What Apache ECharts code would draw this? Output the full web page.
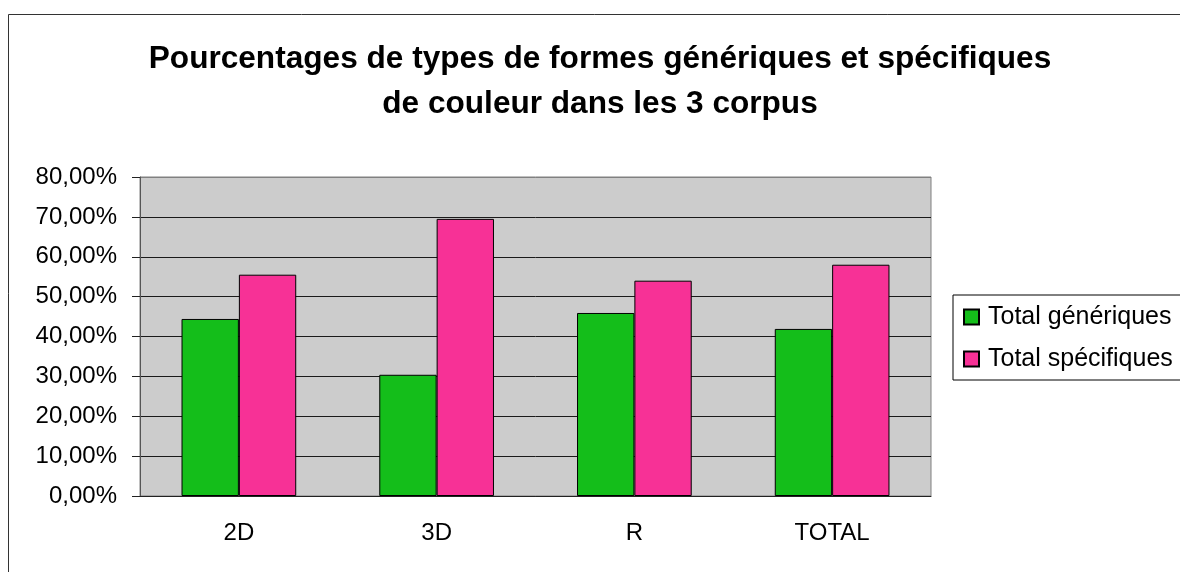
<!DOCTYPE html>
<html>
<head>
<meta charset="utf-8">
<script src="https://cdn.jsdelivr.net/npm/echarts@6/dist/echarts.min.js"></script>
<style>
  html, body { margin: 0; padding: 0; background: #fff; }
  #main { width: 1180px; height: 572px; }
</style>
</head>
<body>
<div id="main"></div>
<script>
const categories = ['2D', '3D', 'R', 'TOTAL'];
const generiques = [44.4, 30.4, 45.9, 41.9];
const specifiques = [55.5, 69.5, 54.0, 58.0];
const yTicks = [0, 10, 20, 30, 40, 50, 60, 70, 80];

const chart = echarts.init(document.getElementById('main'));

// gridlines: last one (80%) is the plot border, grey
const splitColors = yTicks.map((t, i) => i === yTicks.length - 1 ? '#808080' : '#1a1a1a');

const options = {
  animation: false,
  textStyle: { fontFamily: 'Arial, "Liberation Sans", sans-serif' },
  title: {
    text: 'Pourcentages de types de formes génériques et spécifiques\nde couleur dans les 3 corpus',
    left: 595,
    textAlign: 'center',
    top: 32,
    textStyle: {
      fontSize: 31.6,
      fontWeight: 'bold',
      color: '#000',
      lineHeight: 45,
      fontFamily: 'Arial, "Liberation Sans", sans-serif'
    }
  },
  legend: {
    orient: 'vertical',
    left: 953,
    top: 295,
    padding: [9, 30, 8, 10],
    itemGap: 16,
    itemWidth: 15,
    itemHeight: 15,
    icon: 'rect',
    borderColor: '#000',
    borderWidth: 1,
    textStyle: {
      fontSize: 25,
      lineHeight: 26,
      color: '#000',
      padding: [0, 0, 0, 4]
    },
    data: ['Total génériques', 'Total spécifiques']
  },
  grid: {
    left: 140,
    right: 249,
    top: 177,
    bottom: 76,
    show: true,
    backgroundColor: '#cccccc',
    borderColor: '#808080',
    borderWidth: 1
  },
  xAxis: {
    type: 'category',
    data: categories,
    axisLine: { lineStyle: { color: '#222', width: 1 } },
    axisTick: { length: 7, lineStyle: { color: '#222' } },
    axisLabel: { fontSize: 24, color: '#000', margin: 25 }
  },
  yAxis: {
    type: 'value',
    min: 0,
    max: 80,
    interval: 10,
    axisLine: { show: true, lineStyle: { color: '#555', width: 1 } },
    axisTick: { show: true, length: 8, lineStyle: { color: '#222' } },
    axisLabel: {
      fontSize: 24,
      color: '#000',
      margin: 23,
      formatter: v => v.toFixed(2).replace('.', ',') + '%'
    },
    splitLine: { show: true, lineStyle: { color: splitColors, width: 1 } }
  },
  series: [{
    name: 'Total génériques',
    type: 'bar',
    data: generiques,
    barGap: '0%',
    barCategoryGap: '42%',
    itemStyle: { color: '#14be1a', borderColor: '#000', borderWidth: 1 }
  }, {
    name: 'Total spécifiques',
    type: 'bar',
    data: specifiques,
    itemStyle: { color: '#f73196', borderColor: '#000', borderWidth: 1 }
  }],
  graphic: [{
    type: 'rect',
    shape: { x: 8.5, y: 14.5, width: 1200, height: 600 },
    style: { fill: 'none', stroke: '#333', lineWidth: 1 },
    silent: true,
    z: -1
  }]
};

chart.setOption(options);
</script>
</body>
</html>
